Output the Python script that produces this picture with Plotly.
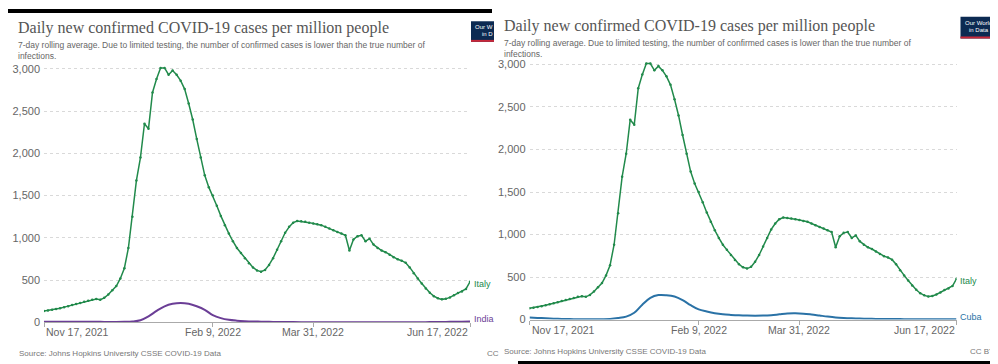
import pandas as pd
import plotly.graph_objects as go

W, H = 998, 364

# ---- data (values per million) ----
start_date = "2021-11-17"
end_date = "2022-06-17"

# Italy: every 2 days from Nov 17, 2021
italy = [133, 140, 148, 158, 168, 180, 192, 205, 218, 230,
         243, 255, 268, 275, 268, 290, 330, 380, 430, 520,
         640, 880, 1250, 1680, 1950, 2350, 2290, 2720, 2880, 3010,
         3010, 2930, 2980, 2930, 2860, 2760, 2590, 2400, 2170, 1950,
         1740, 1600, 1500, 1380, 1260, 1150, 1050, 960, 880, 820,
         760, 700, 650, 615, 600, 620, 680, 760, 860, 960,
         1060, 1130, 1180, 1200, 1195, 1190, 1180, 1170, 1160, 1150,
         1130, 1110, 1090, 1070, 1050, 1030, 850, 980, 1020, 1030,
         960, 990, 920, 880, 850, 830, 800, 770, 746, 730,
         705, 650, 580, 520, 460, 400, 350, 310, 285, 272,
         278, 295, 320, 348, 365, 395, 480]

# India: every 4 days from Nov 17, 2021
india = [8, 7, 7, 6, 6, 6, 6, 6, 5, 5,
         6, 10, 25, 70, 135, 190, 220, 230, 220, 190,
         148, 85, 50, 30, 20, 14, 10, 8, 6, 5,
         4, 3, 2.5, 2, 1.5, 1.5, 1.5, 1.5, 1.5, 2,
         2, 2, 2.5, 2, 2, 2, 2, 2.5, 3, 4,
         5, 7, 8, 9]

# Cuba: every 4 days from Nov 17, 2021
cuba = [25, 20, 15, 11, 8, 6, 5, 4, 4, 5,
        8, 18, 35, 80, 176, 255, 288, 287, 272, 230,
        170, 120, 95, 75, 62, 55, 50, 47, 46, 47,
        52, 62, 72, 74, 70, 60, 48, 36, 26, 20,
        16, 13, 10, 8, 7, 6, 6, 5, 5, 5,
        4, 4, 4, 4]

y_ticks = [0, 500, 1000, 1500, 2000, 2500, 3000]
x_ticks = ["2021-11-17", "2022-02-09", "2022-03-31", "2022-06-17"]
x_tick_labels = ["Nov 17, 2021", "Feb 9, 2022", "Mar 31, 2022", "Jun 17, 2022"]

title = "Daily new confirmed COVID-19 cases per million people"
subtitle = ("7-day rolling average. Due to limited testing, the number of confirmed cases is lower than the true number of"
            "<br>infections.")
source = "Source: Johns Hopkins University CSSE COVID-19 Data"

italy_dates = pd.date_range(start_date, periods=len(italy), freq="2D")
other_dates = pd.date_range(start_date, periods=len(india), freq="4D")

ITALY_C = "#218a4b"
INDIA_C = "#6b3e96"
CUBA_C = "#2a72a6"
GREY = "#666666"
SANS = "Liberation Sans, Arial, sans-serif"
SERIF = "Liberation Serif, Times New Roman, serif"


def px(x):
    return x / W


def py(y):
    return 1 - y / H


fig = go.Figure()

# left panel
fig.add_trace(go.Scatter(x=italy_dates, y=italy, mode="lines+markers",
                         line=dict(color=ITALY_C, width=1.5),
                         marker=dict(size=2.5, color=ITALY_C),
                         xaxis="x", yaxis="y", showlegend=False))
fig.add_trace(go.Scatter(x=other_dates, y=india, mode="lines",
                         line=dict(color=INDIA_C, width=2, shape="spline"),
                         xaxis="x", yaxis="y", showlegend=False))
# right panel
fig.add_trace(go.Scatter(x=italy_dates, y=italy, mode="lines+markers",
                         line=dict(color=ITALY_C, width=1.5),
                         marker=dict(size=2.5, color=ITALY_C),
                         xaxis="x2", yaxis="y2", showlegend=False))
fig.add_trace(go.Scatter(x=other_dates, y=cuba, mode="lines",
                         line=dict(color=CUBA_C, width=2, shape="spline"),
                         xaxis="x2", yaxis="y2", showlegend=False))

ymax = 3060


def xaxis(x0, x1, anchor):
    return dict(domain=[px(x0), px(x1)], range=[start_date, end_date], anchor=anchor,
                tickvals=x_ticks, showticklabels=False, ticks="outside", ticklen=4,
                tickcolor="#aaaaaa", showgrid=False, showline=True, linecolor="#aaaaaa",
                linewidth=1, zeroline=False, fixedrange=True)


def yaxis(y0pix, y3000pix, anchor):
    scale = (y0pix - y3000pix) / 3000.0
    top = y0pix - ymax * scale
    return dict(domain=[py(y0pix), py(top)], range=[0, ymax], anchor=anchor,
                tickvals=y_ticks, tickformat=",", showgrid=True, gridcolor="#d9d9d9",
                griddash="dot", gridwidth=1, zeroline=False, showline=False, ticks="",
                tickfont=dict(family=SANS, size=11, color=GREY), ticklabelstandoff=3,
                fixedrange=True)


fig.update_layout(
    width=W, height=H, margin=dict(l=0, r=0, t=0, b=0),
    paper_bgcolor="white", plot_bgcolor="white",
    xaxis=xaxis(36, 462, "y"), yaxis=yaxis(319.5, 61, "x"),
    xaxis2=xaxis(521.5, 948.5, "y2"), yaxis2=yaxis(316.7, 56.5, "x2"),
)

ann = []


def text(x, y, s, size, color=GREY, family=SANS, xanchor="left", xref="paper"):
    ann.append(dict(x=x if xref != "paper" else px(x), y=py(y), xref=xref, yref="paper",
                    text=s, showarrow=False, xanchor=xanchor, yanchor="middle",
                    font=dict(family=family, size=size, color=color), align="left"))


# x tick labels via annotations (ends aligned as in the original)
for (xr, ylab) in [("x", 329), ("x2", 327)]:
    for i, (d, lab) in enumerate(zip(x_ticks, x_tick_labels)):
        anchor = "left" if i == 0 else ("right" if i == len(x_ticks) - 1 else "center")
        text(d, ylab, lab, 10.5, xanchor=anchor, xref=xr)

# titles
text(8, 19.5, title, 16, color="#555555", family=SERIF)
text(494, 17, title, 16, color="#555555", family=SERIF)
ann.append(dict(x=px(8), y=py(29.5), xref="paper", yref="paper", text=subtitle, showarrow=False,
                xanchor="left", yanchor="top", align="left",
                font=dict(family=SANS, size=8.5, color=GREY)))
ann.append(dict(x=px(494), y=py(27.5), xref="paper", yref="paper", text=subtitle, showarrow=False,
                xanchor="left", yanchor="top", align="left",
                font=dict(family=SANS, size=8.5, color=GREY)))

# sources
text(9, 351, source, 8, color="#777777")
text(494, 349, source, 8, color="#777777")
text(477, 351, "CC", 8, color="#777777")
text(989, 349, "CC BY", 8, color="#777777", xanchor="right")

# series labels
text(464, 280, "Italy", 9, color=ITALY_C)
text(464, 316, "India", 9, color=INDIA_C)
text(950, 277, "Italy", 9, color=ITALY_C)
text(950, 314, "Cuba", 9, color=CUBA_C)

shapes = []


def rect(x0, y0, x1, y1, color):
    shapes.append(dict(type="rect", xref="paper", yref="paper", x0=px(x0), x1=px(x1),
                       y0=py(y1), y1=py(y0), fillcolor=color, line=dict(width=0), layer="above"))


# black bands from the composite screenshot
rect(0, 0, 484, 4, "black")
rect(510, 359, 998, 362, "black")

# Our World in Data logos
rect(463, 12.5, 486, 33.5, "#0c2a52")
rect(463, 31.5, 486, 33.5, "#c8283a")
rect(952.5, 8, 989, 30, "#0c2a52")
rect(952.5, 28, 989, 30, "#c8283a")
text(465, 18.5, "Our W", 6, color="white")
text(472, 25.5, "in D", 6, color="white")
text(970.75, 14, "Our World", 6, color="white", xanchor="center")
text(970.75, 21.5, "in Data", 6, color="white", xanchor="center")

fig.update_layout(annotations=ann, shapes=shapes)

fig.write_html("out.html")
